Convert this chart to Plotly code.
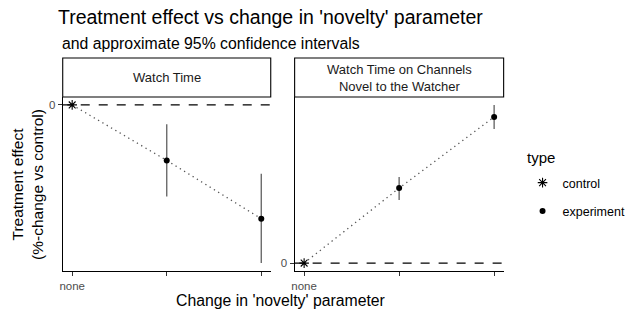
import plotly.graph_objects as go

# ---- data ----
novelty_level = [0, 1, 2]
tick_labels = ["none", "", ""]
point_type = ["control", "experiment", "experiment"]

panel_titles = ["Watch Time", "Watch Time on Channels<br>Novel to the Watcher"]

watch_effect = [0.0, -1.00, -2.05]
watch_lo = [0.0, -1.65, -2.85]
watch_hi = [0.0, -0.35, -1.24]

novel_effect = [0.0, 1.00, 1.95]
novel_lo = [0.0, 0.84, 1.79]
novel_hi = [0.0, 1.15, 2.11]

W, H = 640, 320
FONT = "Liberation Sans, Arial, Helvetica, sans-serif"

fig = go.Figure()

panels = [
    (watch_effect, watch_lo, watch_hi, "x", "y"),
    (novel_effect, novel_lo, novel_hi, "x2", "y2"),
]

for i, (eff, lo, hi, xa, ya) in enumerate(panels):
    # dotted connecting line
    fig.add_trace(go.Scatter(
        x=novelty_level, y=eff, mode="lines", xaxis=xa, yaxis=ya,
        line=dict(color="#555555", width=1.3, dash="1.3px,3.7px"), showlegend=False,
        hoverinfo="skip"))
    exp_idx = [k for k, t in enumerate(point_type) if t == "experiment"]
    ctl_idx = [k for k, t in enumerate(point_type) if t == "control"]
    # error bars (intervals)
    fig.add_trace(go.Scatter(
        x=[novelty_level[k] for k in exp_idx], y=[eff[k] for k in exp_idx],
        mode="markers", xaxis=xa, yaxis=ya,
        marker=dict(size=1, color="rgba(0,0,0,0)"),
        error_y=dict(type="data", symmetric=False,
                     array=[hi[k] - eff[k] for k in exp_idx],
                     arrayminus=[eff[k] - lo[k] for k in exp_idx],
                     width=0, thickness=1.4, color="#6b6b6b"),
        showlegend=False, hoverinfo="skip"))
    # control points
    fig.add_trace(go.Scatter(
        x=[novelty_level[k] for k in ctl_idx], y=[eff[k] for k in ctl_idx],
        mode="markers", xaxis=xa, yaxis=ya, name="control",
        legendgroup="control", showlegend=(i == 0),
        marker=dict(symbol="asterisk-open", size=8, color="black",
                    line=dict(color="black", width=1.1))))
    # experiment points
    fig.add_trace(go.Scatter(
        x=[novelty_level[k] for k in exp_idx], y=[eff[k] for k in exp_idx],
        mode="markers", xaxis=xa, yaxis=ya, name="experiment",
        legendgroup="experiment", showlegend=(i == 0),
        marker=dict(symbol="circle", size=6, color="black")))


def rng(lo, hi):
    a, b = min(lo + [0]), max(hi + [0])
    s = b - a
    return [a - 0.05 * s, b + 0.05 * s]


xr = [min(novelty_level) - 0.05 * (max(novelty_level) - min(novelty_level)),
      max(novelty_level) + 0.05 * (max(novelty_level) - min(novelty_level))]

x_doms = [[60 / W, 269 / W], [293 / W, 503 / W]]
y_dom = [(H - 271) / H, (H - 97) / H]

axis_common = dict(showgrid=False, zeroline=False, showline=True,
                   linecolor="black", linewidth=1.1, ticks="outside",
                   ticklen=4, tickcolor="#333333", tickwidth=1.1,
                   tickfont=dict(family=FONT, size=11.5, color="#4d4d4d"))

fig.update_layout(
    xaxis=dict(domain=x_doms[0], range=xr, tickvals=novelty_level,
               ticktext=tick_labels, anchor="y", **axis_common),
    xaxis2=dict(domain=x_doms[1], range=xr, tickvals=novelty_level,
                ticktext=tick_labels, anchor="y2", **axis_common),
    yaxis=dict(domain=y_dom, range=rng(watch_lo, watch_hi), tickvals=[0],
               ticktext=["0"], anchor="x", **axis_common),
    yaxis2=dict(domain=y_dom, range=rng(novel_lo, novel_hi), tickvals=[0],
                ticktext=["0"], anchor="x2", **axis_common),
)

shapes = []
annotations = []
for i, (xd, title) in enumerate(zip(x_doms, panel_titles)):
    ya = "y" if i == 0 else "y2"
    xa = "x" if i == 0 else "x2"
    # dashed zero reference line
    shapes.append(dict(type="line", xref=f"{xa} domain", yref=ya,
                       x0=0, x1=1, y0=0, y1=0,
                       line=dict(color="black", width=1.2, dash="dash")))
    # strip box
    shapes.append(dict(type="rect", xref="paper", yref="paper",
                       x0=xd[0], x1=xd[1], y0=(H - 97) / H, y1=(H - 58) / H,
                       line=dict(color="black", width=1.1),
                       fillcolor="white", layer="below"))
    annotations.append(dict(text=title, xref="paper", yref="paper",
                            x=(xd[0] + xd[1]) / 2, y=(H - 77.5) / H,
                            showarrow=False, xanchor="center", yanchor="middle",
                            font=dict(family=FONT, size=13, color="#1a1a1a")))

annotations += [
    dict(text="and approximate 95% confidence intervals", xref="paper", yref="paper",
         x=57 / W, y=(H - 43) / H, xanchor="left", yanchor="middle", showarrow=False,
         font=dict(family=FONT, size=15.8, color="black")),
    dict(text="Change in 'novelty' parameter", xref="paper", yref="paper",
         x=278.5 / W, y=(H - 300) / H, xanchor="center", yanchor="middle",
         showarrow=False, font=dict(family=FONT, size=15.8, color="black")),
    dict(text="Treatment effect<br>(%-change vs control)", xref="paper", yref="paper",
         x=24 / W, y=(H - 184) / H, xanchor="center", yanchor="middle", textangle=-90,
         showarrow=False, font=dict(family=FONT, size=15.5, color="black")),
    dict(text="type", xref="paper", yref="paper",
         x=524 / W, y=(H - 157) / H, xanchor="left", yanchor="middle",
         showarrow=False, font=dict(family=FONT, size=15, color="black")),
]

fig.update_layout(
    width=W, height=H, margin=dict(l=0, r=0, t=0, b=0),
    paper_bgcolor="white", plot_bgcolor="white",
    font=dict(family=FONT, color="black"),
    title=dict(text="Treatment effect vs change in 'novelty' parameter",
               x=58 / W, xanchor="left", y=(H - 17) / H, yanchor="middle",
               font=dict(family=FONT, size=19.5, color="black")),
    shapes=shapes, annotations=annotations,
    legend=dict(font=dict(family=FONT, size=12.5), x=522 / W, xanchor="left",
                y=(H - 168) / H, yanchor="top", tracegroupgap=9,
                bgcolor="rgba(0,0,0,0)"),
)

fig.write_html("out.html")
